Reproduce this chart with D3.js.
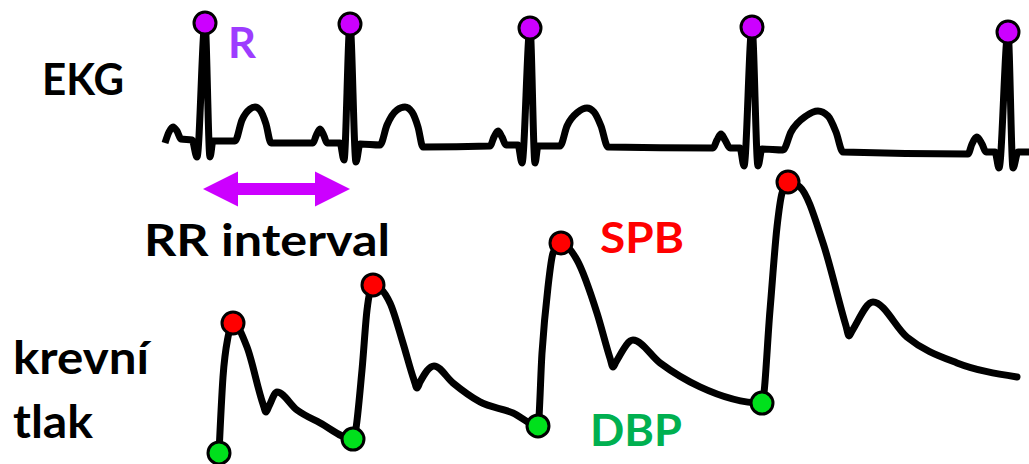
<!DOCTYPE html>
<html>
<head>
<meta charset="utf-8">
<script src="https://cdn.jsdelivr.net/npm/d3@7"></script>
<style>
  html, body { margin: 0; padding: 0; background: #fff; }
  svg { display: block; }
  text { font-family: Lato, "Open Sans", "DejaVu Sans", sans-serif; font-weight: 700; }
</style>
</head>
<body>
<svg id="chart" width="1029" height="464"></svg>
<script>
// ---------- DATA ----------
// time in samples (1 sample = 5 ms), EKG voltage in mV
const ekgTime = [5, 9, 13, 17, 21, 32, 37, 45, 50, 53, 75, 82, 90, 95, 100, 106, 111,
  153, 156, 160, 164, 167, 180, 184, 190, 196, 200, 220, 227, 237, 245, 252, 258, 263,
  330, 334, 338, 342, 346, 358, 362, 370, 375, 378, 400, 407, 418, 427, 434, 441, 448,
  553, 557, 561, 565, 570, 580, 584, 592, 598, 602, 623, 631, 646, 658, 668, 676, 683,
  808, 812, 817, 822, 826, 835, 839, 848, 853, 858, 869];
const ekgVolt = [0.02, 0.13, 0.18, 0.14, 0.06, 0.05, -0.12, 1.22, -0.12, 0.04, 0.04, 0.25, 0.36, 0.38, 0.35, 0.21, 0.02,
  0.02, 0.09, 0.16, 0.09, 0.02, 0.02, -0.15, 1.21, -0.17, 0.01, 0.00, 0.20, 0.35, 0.38, 0.33, 0.18, -0.02,
  -0.01, 0.08, 0.14, 0.08, 0.00, 0.00, -0.18, 1.17, -0.18, -0.01, -0.01, 0.19, 0.33, 0.37, 0.33, 0.19, -0.02,
  -0.03, 0.05, 0.11, 0.05, -0.03, -0.03, -0.21, 1.18, -0.21, -0.04, -0.05, 0.13, 0.29, 0.34, 0.29, 0.13, -0.07,
  -0.09, 0.01, 0.08, 0.01, -0.07, -0.07, -0.23, 1.13, -0.23, -0.07, -0.07];

const rPeakTime = [45, 190, 370, 592, 848];
const rPeakVolt = [1.22, 1.21, 1.17, 1.18, 1.13];

// blood pressure in mmHg
const bpTime = [59, 63, 68, 73, 87, 103, 106, 109, 117, 137, 160, 193,
  202, 207, 213, 230, 243, 254, 257, 260, 274, 293, 320, 353, 378,
  382, 388, 393, 401, 417, 437, 450, 453, 456, 473, 500, 540, 602,
  610, 617, 622, 628, 640, 663, 686, 689, 692, 713, 747, 797, 857];
const bpPressure = [65.7, 91.0, 104.3, 109.0, 101.0, 82.0, 79.3, 81.3, 86.0, 80.0, 75.7, 70.3,
  93.3, 113.3, 121.7, 115.7, 102.3, 90.0, 87.3, 89.3, 94.7, 89.0, 82.7, 79.0, 74.7,
  99.0, 121.0, 132.3, 135.7, 130.0, 112.3, 97.3, 94.3, 96.0, 103.3, 95.7, 87.7, 82.3,
  113.3, 141.0, 152.3, 156.0, 154.3, 135.7, 108.0, 104.7, 106.3, 116.0, 104.3, 95.7, 91.0];

const sbpTime = [73, 213, 401, 628];
const sbpValue = [109.0, 121.7, 135.7, 156.0];
const dbpTime = [59, 193, 378, 602];
const dbpValue = [65.7, 70.3, 74.7, 82.3];

const labelEKG = "EKG";
const labelR = "R";
const labelRR = "RR interval";
const labelBP = ["krevní", "tlak"];
const labelSBP = "SPB";
const labelDBP = "DBP";

// ---------- SCALES ----------
const svg = d3.select("#chart");
const x = d3.scaleLinear().domain([0, 869]).range([160, 1029]);
const yEkg = d3.scaleLinear().domain([-0.2, 1.2]).range([165, 25]);
const yBp = d3.scaleLinear().domain([60, 160]).range([470, 170]);

const ekgData = ekgTime.map((t, i) => [t, ekgVolt[i]]);
const bpData = bpTime.map((t, i) => [t, bpPressure[i]]);

// ---------- EKG ----------
const ekgLine = d3.line().x(d => x(d[0])).y(d => yEkg(d[1])).curve(d3.curveMonotoneX);
svg.append("path").datum(ekgData)
  .attr("d", ekgLine)
  .attr("fill", "none").attr("stroke", "#000").attr("stroke-width", 7)
  .attr("stroke-linejoin", "round");

svg.append("g").selectAll("circle").data(rPeakTime).join("circle")
  .attr("cx", (t) => x(t)).attr("cy", (t, i) => yEkg(rPeakVolt[i]))
  .attr("r", 11).attr("fill", "#cc00ff").attr("stroke", "#000").attr("stroke-width", 3);

// ---------- RR arrow ----------
const ax0 = x(rPeakTime[0]) - 2, ax1 = x(rPeakTime[1]);
const ay = 189, head = 35, hw = 17.5, sw = 6;
const arrowPts = [
  [ax0, ay], [ax0 + head, ay - hw], [ax0 + head, ay - sw], [ax1 - head, ay - sw],
  [ax1 - head, ay - hw], [ax1, ay], [ax1 - head, ay + hw], [ax1 - head, ay + sw],
  [ax0 + head, ay + sw], [ax0 + head, ay + hw]
];
svg.append("polygon").attr("points", arrowPts.map(p => p.join(",")).join(" "))
  .attr("fill", "#cc00ff");

// ---------- Blood pressure ----------
const bpLine = d3.line().x(d => x(d[0])).y(d => yBp(d[1])).curve(d3.curveMonotoneX);
svg.append("path").datum(bpData)
  .attr("d", bpLine)
  .attr("fill", "none").attr("stroke", "#000").attr("stroke-width", 7)
  .attr("stroke-linejoin", "round").attr("stroke-linecap", "round");

svg.append("g").selectAll("circle").data(sbpTime).join("circle")
  .attr("cx", t => x(t)).attr("cy", (t, i) => yBp(sbpValue[i]))
  .attr("r", 11).attr("fill", "#ff0000").attr("stroke", "#000").attr("stroke-width", 3);

svg.append("g").selectAll("circle").data(dbpTime).join("circle")
  .attr("cx", t => x(t)).attr("cy", (t, i) => yBp(dbpValue[i]))
  .attr("r", 11).attr("fill", "#00e01c").attr("stroke", "#000").attr("stroke-width", 3);

// ---------- Labels ----------
function label(txt, xPos, yPos, size, color, len) {
  svg.append("text").attr("x", xPos).attr("y", yPos).attr("font-size", size)
    .attr("fill", color).attr("textLength", len).attr("lengthAdjust", "spacingAndGlyphs")
    .text(txt);
}
label(labelEKG, 42, 95, 44, "#000", 82);
label(labelR, 228, 58, 42, "#9d3cff", 28);
label(labelRR, 144, 256, 43, "#000", 246);
label(labelSBP, 600, 253, 42, "#ff0000", 84);
label(labelDBP, 590, 446, 44, "#00b050", 92);
label(labelBP[0], 13, 374, 45, "#000", 136);
label(labelBP[1], 13, 438, 45, "#000", 80);
</script>
</body>
</html>
